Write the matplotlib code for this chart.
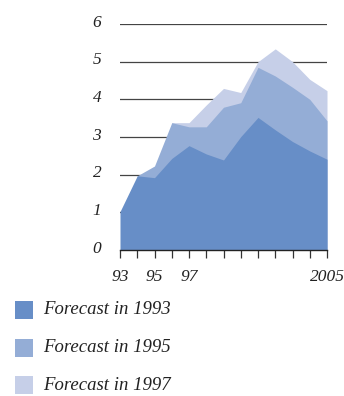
import numpy as np
import matplotlib.pyplot as plt
from matplotlib.patches import Rectangle
from matplotlib.transforms import ScaledTranslation

# forecasts (absolute values), NaN before the forecast starts
years = list(range(1993, 2006))
forecast_1993 = [1.02, 1.97, 1.92, 2.43, 2.77, 2.55, 2.39, 3.01, 3.52, 3.19, 2.88, 2.63, 2.41]
forecast_1995 = [np.nan, 1.97, 2.23, 3.38, 3.27, 3.27, 3.79, 3.91, 4.85, 4.62, 4.32, 4.00, 3.43]
forecast_1997 = [np.nan, np.nan, np.nan, 3.38, 3.38, 3.85, 4.29, 4.18, 5.00, 5.34, 5.00, 4.53, 4.23]

series = [("Forecast in 1993", forecast_1993, "#678ec7"),
          ("Forecast in 1995", forecast_1995, "#94add6"),
          ("Forecast in 1997", forecast_1997, "#c6cfe8")]

xtick_labels = ["93", "", "95", "", "97", "", "", "", "", "", "", "", "2005"]
ytick_values = [0, 1, 2, 3, 4, 5, 6]

plt.rcParams['font.family'] = ['Liberation Serif', 'DejaVu Serif']
plt.rcParams['font.style'] = 'italic'

fig = plt.figure(figsize=(3.44, 3.96), dpi=100)
ax = fig.add_axes([120 / 344, 146 / 396, 207 / 344, 226 / 396])

# horizontal rules behind the areas
for v in ytick_values[1:]:
    ax.axhline(v, color="#444444", lw=0.9, zorder=0)

x = np.array(years)
for name, vals, col in reversed(series):
    v = np.array(vals, dtype=float)
    m = ~np.isnan(v)
    ax.fill_between(x[m], 0, v[m], color=col, lw=0, zorder=2)

ax.set_xlim(1993, 2005)
ax.set_ylim(0, 6)
for s in ["top", "right", "left"]:
    ax.spines[s].set_visible(False)
ax.spines["bottom"].set_color("#222222")
ax.spines["bottom"].set_linewidth(1.0)
ax.spines["bottom"].set_zorder(3)

ax.set_xticks(years)
ax.set_xticklabels(xtick_labels, fontsize=12.5, color="#222222")
ax.tick_params(axis="x", direction="out", length=5.5, width=0.9, color="#333333", pad=8)

ax.set_yticks(ytick_values)
ax.set_yticklabels([str(v) for v in ytick_values], fontsize=12.5, color="#222222")
ax.tick_params(axis="y", length=0, pad=13.5)
offset = ScaledTranslation(0, 2.5 / 72, fig.dpi_scale_trans)
for lab in ax.get_yticklabels():
    lab.set_transform(lab.get_transform() + offset)

# legend boxes under the chart
row_y = [310, 348, 385]
for (name, vals, col), yc in zip(series, row_y):
    fig.add_artist(Rectangle((15 / 344, (396 - yc - 9) / 396), 18 / 344, 18 / 396,
                             transform=fig.transFigure, color=col, lw=0))
    fig.text(43 / 344, (396 - yc) / 396, name, fontsize=13.5, color="#222222",
             va="center", ha="left")

fig.savefig("out.png", dpi=100)
